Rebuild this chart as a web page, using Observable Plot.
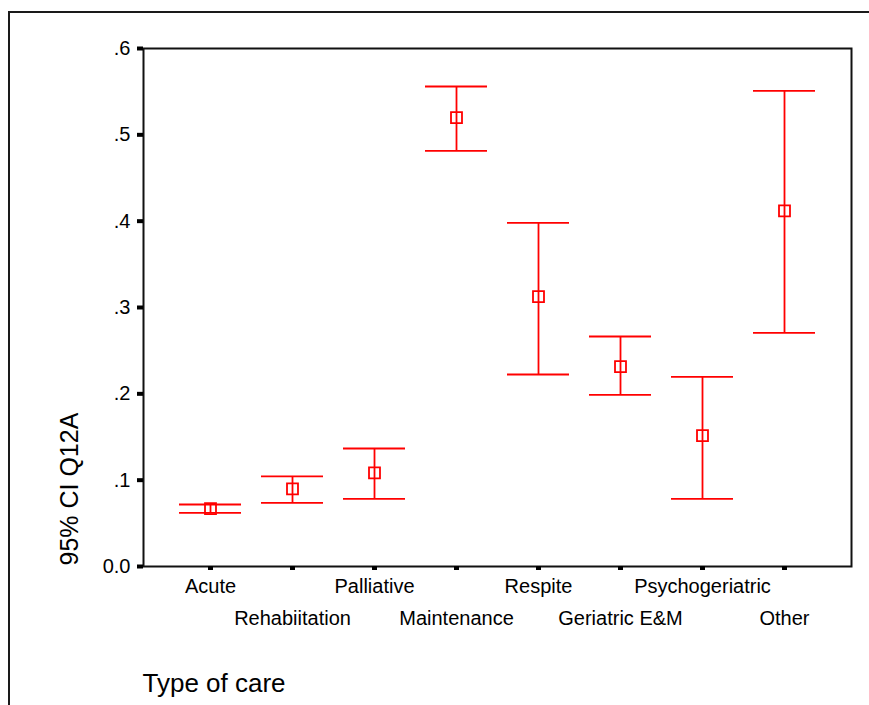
<!DOCTYPE html>
<html>
<head>
<meta charset="utf-8">
<script src="https://cdn.jsdelivr.net/npm/d3@7"></script>
<script src="https://cdn.jsdelivr.net/npm/@observablehq/plot@0.6"></script>
<style>
  html, body { margin: 0; padding: 0; background: #fff; }
  #wrap { position: relative; width: 869px; height: 705px; overflow: hidden; }
  #border { position: absolute; left: 8px; top: 11px; right: -10px; bottom: -10px;
            border-left: 2px solid #1a1a1a; border-top: 2px solid #1a1a1a; }
  #chart { position: absolute; left: 0; top: 0; }
</style>
</head>
<body>
<div id="wrap"><div id="border"></div><div id="chart"></div></div>
<script>
// Type of care categories (labels as printed on the axis)
const careTypes = ["Acute", "Rehabiitation", "Palliative", "Maintenance",
                   "Respite", "Geriatric E&M", "Psychogeriatric", "Other"];
// Mean of Q12A per type of care, with its 95% confidence interval
const means = [0.067, 0.090, 0.1085, 0.520, 0.3125, 0.2315, 0.1515, 0.412];
const lower = [0.0622, 0.0738, 0.0784, 0.4815, 0.2224, 0.1989, 0.0784, 0.2707];
const upper = [0.0718, 0.1043, 0.1367, 0.556, 0.398, 0.2664, 0.2197, 0.551];

const yTicks = [0, 0.1, 0.2, 0.3, 0.4, 0.5, 0.6];
const yTickLabels = ["0.0", ".1", ".2", ".3", ".4", ".5", ".6"];
const yLabel = "95% CI Q12A";
const xLabel = "Type of care";

const rows = careTypes.map((type, i) => ({
  type, mean: means[i], lo: lower[i], hi: upper[i], row: i % 2
}));

const red = "#ff0000";
const font = "'Liberation Sans', Arial, sans-serif";

const chart = Plot.plot({
  width: 869,
  height: 705,
  marginLeft: 143,
  marginRight: 18,
  marginTop: 48,
  marginBottom: 139,
  style: { fontFamily: font, background: "transparent", color: "#000" },
  x: { type: "band", domain: careTypes, paddingInner: 0.248, paddingOuter: 0.4186, axis: null },
  y: { domain: [0, 0.6], axis: null },
  marks: [
    Plot.frame({ stroke: "#111", strokeWidth: 2 }),
    // y axis: thick short ticks and SPSS-style labels
    Plot.axisY(yTicks, {
      tickSize: 6, strokeWidth: 4, tickPadding: 7, fontSize: 20, label: null,
      tickFormat: d => yTickLabels[yTicks.indexOf(d)]
    }),
    // x axis: small ticks below the frame, labels drawn in two staggered rows
    Plot.axisX({ tickSize: 4, strokeWidth: 5, tickFormat: () => "", label: null }),
    Plot.text(rows.filter(d => d.row === 0), {
      x: "type", text: "type", frameAnchor: "bottom", lineAnchor: "top", dy: 12, fontSize: 20
    }),
    Plot.text(rows.filter(d => d.row === 1), {
      x: "type", text: "type", frameAnchor: "bottom", lineAnchor: "top", dy: 44, fontSize: 20
    }),
    // error bars: whisker, caps and mean marker
    Plot.ruleX(rows, { x: "type", y1: "lo", y2: "hi", stroke: red, strokeWidth: 1.8 }),
    Plot.tickY(rows, { x: "type", y: "lo", stroke: red, strokeWidth: 1.8 }),
    Plot.tickY(rows, { x: "type", y: "hi", stroke: red, strokeWidth: 1.8 }),
    Plot.dot(rows, { x: "type", y: "mean", symbol: "square", r: 6.2, stroke: red, strokeWidth: 1.8, fill: "none" }),
    // axis titles
    Plot.text([yLabel], {
      text: d => d, frameAnchor: "bottom-left", dx: -66, dy: -1, rotate: -90,
      textAnchor: "start", lineAnchor: "bottom", fontSize: 25
    }),
    Plot.text([xLabel], {
      text: d => d, frameAnchor: "bottom-left", dx: -1, dy: 125,
      textAnchor: "start", lineAnchor: "bottom", fontSize: 26
    })
  ]
});

document.getElementById("chart").appendChild(chart);
</script>
</body>
</html>
